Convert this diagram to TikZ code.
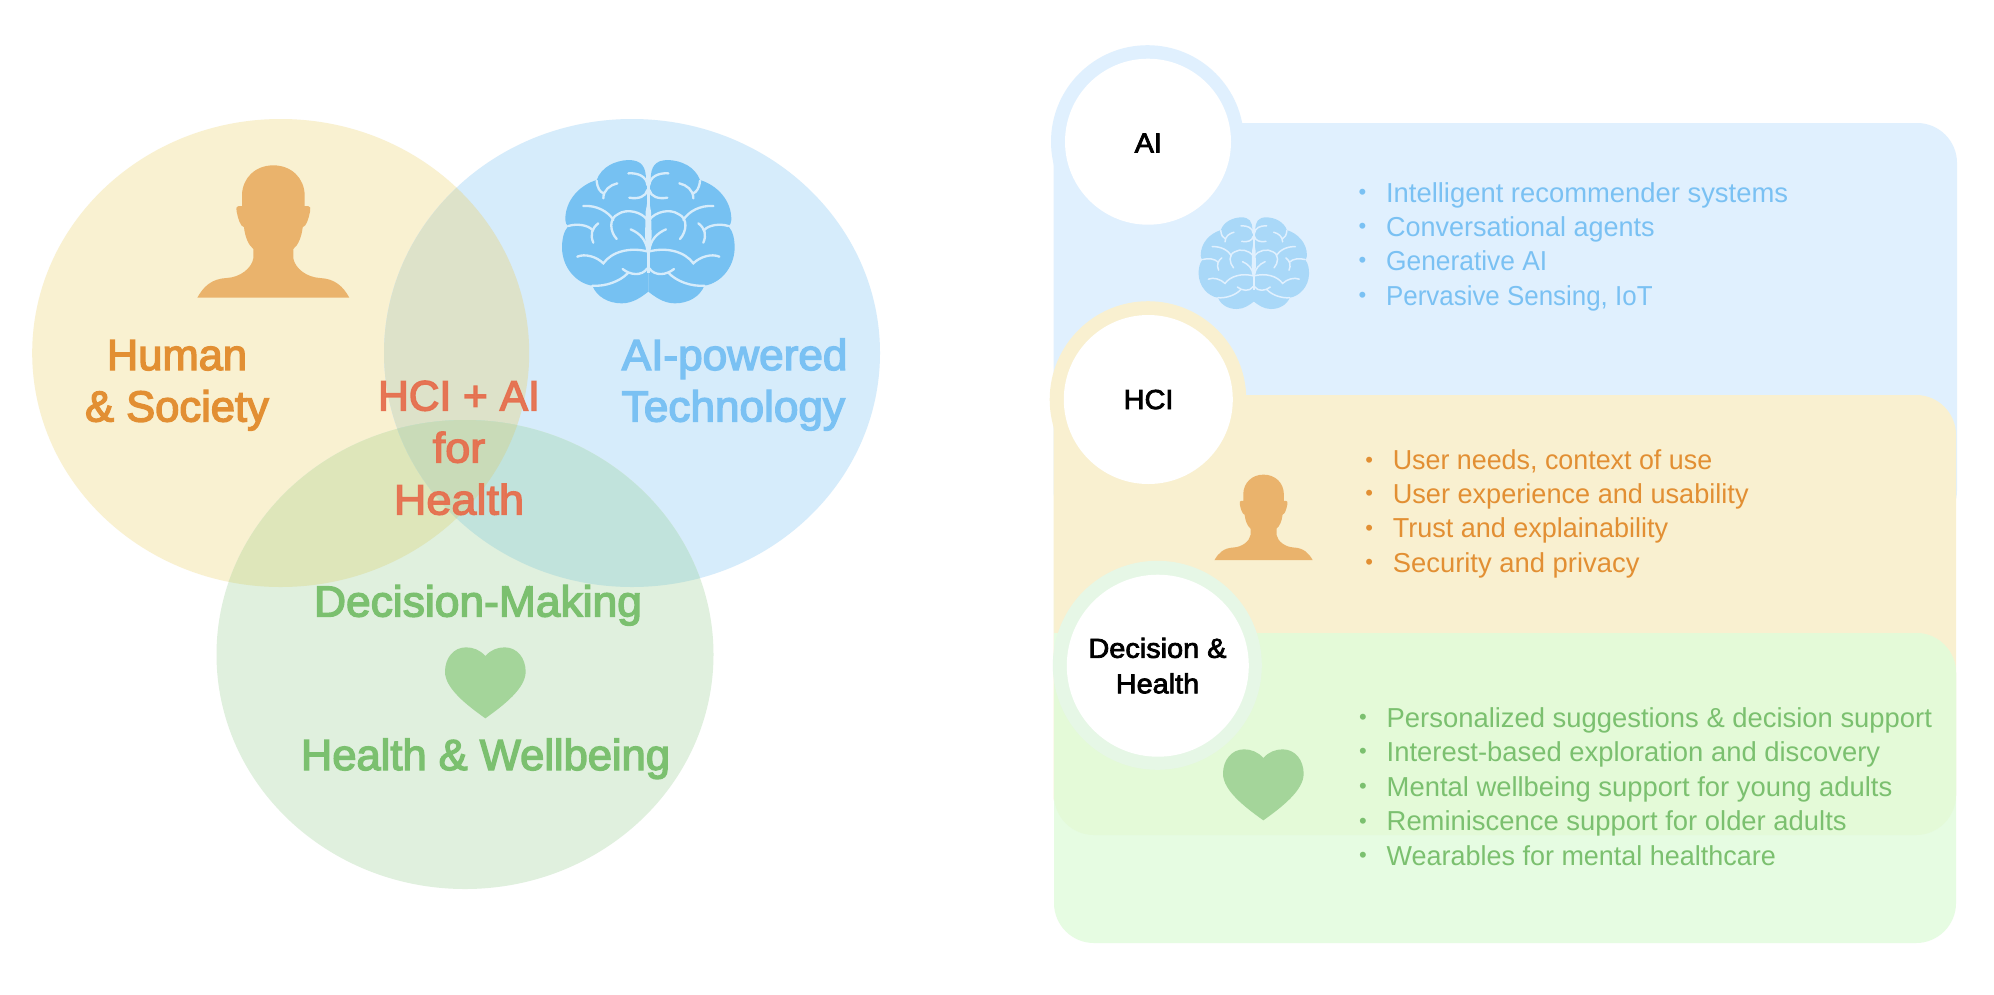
\documentclass[tikz,border=0pt]{standalone}
\usepackage{fontspec}
\setmainfont{Liberation Sans}
\newfontfamily\medfont[FakeBold=3.2]{Liberation Sans}
\newfontfamily\labfont[FakeBold=2.8,FakeStretch=1.05]{Liberation Sans}
\usetikzlibrary{shapes.geometric}
\definecolor{vY}{HTML}{F9F1D1}
\definecolor{vB}{HTML}{D6ECFB}
\definecolor{vG}{HTML}{E0F0DE}
\definecolor{vYB}{HTML}{DDE2C9}
\definecolor{vYG}{HTML}{DEE6BA}
\definecolor{vBG}{HTML}{C1E3DC}
\definecolor{vYBG}{HTML}{C9DBB8}
\definecolor{pB}{HTML}{E0F0FE}
\definecolor{pY}{HTML}{F9F0D0}
\definecolor{pG}{HTML}{E6FCE2}
\definecolor{pGY}{HTML}{E4FAD8}
\definecolor{rG}{HTML}{E6F7E6}
\definecolor{tO}{HTML}{E28F33}
\definecolor{tB}{HTML}{7AC1F3}
\definecolor{tG}{HTML}{7BC06F}
\definecolor{tR}{HTML}{E6704F}
\definecolor{iO}{HTML}{EAB36C}
\definecolor{iB}{HTML}{76C1F2}
\definecolor{iBs}{HTML}{A9D8F8}
\definecolor{iG}{HTML}{A4D59A}
\newcommand\sq[2]{{\addfontfeature{FakeStretch=#1}#2}}
\tikzset{
  venn/.style={font=\medfont\fontsize{43.5}{51.5}\selectfont,inner sep=0pt,anchor=base,align=center},
  circlabel/.style={font=\labfont\fontsize{27.5}{35.5}\selectfont,inner sep=0pt,anchor=base,align=center,text=black},
  item/.style={font=\fontsize{27.4}{33}\selectfont,inner sep=0pt,anchor=base west},
  dot/.style={font=\fontsize{22}{24}\selectfont,inner sep=0pt,anchor=base},
}
% icons: all coordinates are pixels of a 3x crop; #1,#2 = crop origin, #3 = unit
\newcommand\heartshape[3]{%
\begin{scope}[shift={(#1,#2)},x=#3pt,y=-#3pt]
\fill[iG] (166,78) .. controls (150,60) and (130,52) .. (108,52) .. controls (70,52) and (45,85) .. (45,125)
 .. controls (45,175) and (110,225) .. (166,265) .. controls (222,225) and (287,175) .. (287,125)
 .. controls (287,85) and (262,52) .. (224,52) .. controls (202,52) and (182,60) .. (166,78) -- cycle;
\end{scope}}
\newcommand\personshape[3]{%
\begin{scope}[shift={(#1,#2)},x=#3pt,y=-#3pt]
\fill[iO] (280,46) .. controls (225,46) and (187,85) .. (186,135) -- (186,168) -- (176,168)
 .. controls (170,168) and (168,172) .. (170,185) .. controls (174,205) and (180,228) .. (192,232)
 .. controls (195,260) and (205,285) .. (220,297) -- (220,325) .. controls (215,355) and (180,382) .. (140,384)
 .. controls (95,386) and (70,410) .. (52,443) -- (508,443)
 .. controls (490,410) and (465,386) .. (420,384) .. controls (380,382) and (345,355) .. (340,325) -- (340,297)
 .. controls (355,285) and (365,260) .. (368,232) .. controls (380,228) and (386,205) .. (390,185)
 .. controls (392,172) and (390,168) .. (384,168) -- (374,168) -- (374,135) .. controls (373,85) and (335,46) .. (280,46) -- cycle;
\end{scope}}
\newcommand\brainhalf[1]{%
\fill[#1] (325,120) -- (318,120) .. controls (318,80) and (305,60) .. (265,60) .. controls (225,62) and (185,80) .. (170,120)
 .. controls (120,135) and (75,180) .. (76,240) .. controls (76,250) and (80,255) .. (85,258)
 .. controls (70,275) and (66,300) .. (66,325) .. controls (68,385) and (110,430) .. (157,437)
 .. controls (170,470) and (205,490) .. (245,490) .. controls (280,490) and (305,470) .. (325,455) -- cycle;}
\newcommand\brainlines{%
 (265,100) .. controls (295,98) and (320,110) .. (322,135)
 (268,173) .. controls (295,178) and (318,170) .. (322,150)
 (232,130) .. controls (210,135) and (190,150) .. (190,175)
 (170,122) .. controls (172,145) and (180,155) .. (190,160)
 (130,198) .. controls (170,195) and (205,215) .. (220,240)
 (230,297) .. controls (210,275) and (205,235) .. (235,222) .. controls (260,205) and (305,215) .. (322,240)
 (272,268) .. controls (300,280) and (318,300) .. (322,330)
 (85,258) .. controls (110,250) and (145,255) .. (157,270)
 (175,250) .. controls (155,265) and (150,285) .. (160,308)
 (112,350) .. controls (135,340) and (170,350) .. (190,370) .. controls (215,335) and (270,320) .. (325,335)
 (248,387) .. controls (270,405) and (305,410) .. (322,385)
 (157,437) .. controls (195,440) and (240,425) .. (265,398)
}
\newcommand\brainshape[5]{%
\begin{scope}[shift={(#1,#2)},x=#3pt,y=-#3pt]
\brainhalf{#4}
\begin{scope}[shift={(650,0)},x=-#3pt]\brainhalf{#4}\end{scope}
\draw[#5,line width=7*#3 pt,line cap=round] \brainlines;
\begin{scope}[shift={(650,0)},x=-#3pt]\draw[#5,line width=7*#3 pt,line cap=round] \brainlines;\end{scope}
\draw[#5,line width=9*#3 pt] (325,55) -- (325,400);
\fill[#5] (325,170) -- (333,215) -- (335,290) -- (328,345) -- (322,345) -- (315,290) -- (317,215) -- cycle;
\end{scope}}
\begin{document}
\begin{tikzpicture}[x=1pt,y=-1pt]
\useasboundingbox (0,0) rectangle (1994,994);
\fill[white] (0,0) rectangle (1994,994);
% Venn
\def\eY{(280.7,353) ellipse [x radius=248.5,y radius=234]}
\def\eB{(632,353) ellipse [x radius=248,y radius=234]}
\def\eG{(465,654.5) ellipse [x radius=248.5,y radius=234.5]}
\fill[vY] \eY; \fill[vB] \eB; \fill[vG] \eG;
\begin{scope}\clip \eY; \fill[vYB] \eB; \fill[vYG] \eG; \clip \eB; \fill[vYBG] \eG; \end{scope}
\begin{scope}\clip \eB; \clip \eG;
\fill[vBG] (0,0) rectangle (1000,994);
\clip \eY; \fill[vYBG] (0,0) rectangle (1000,994);
\end{scope}
\personshape{180}{150}{0.33333}
\brainshape{540}{140}{0.33333}{iB}{vB}
\heartshape{430}{630}{0.33333}
\node[venn,text=tO] (human) at (177,421.5) {Human\\\& Society};
\node[venn,text=tB,anchor=base west,align=left,font=\medfont\addfontfeature{FakeStretch=1.015}\fontsize{43.5}{51.5}\selectfont] (tech) at (621.5,421.5) {AI-powered\\Technology};
\node[venn,text=tR,text opacity=0.95,font=\medfont\fontsize{42.5}{52}\selectfont] (core) at (459,514.5) {HCI + AI\\\sq{1.06}{for}\\\sq{1.06}{Health}};
\node[venn,text=tG,font=\medfont\addfontfeature{FakeStretch=1.02}\fontsize{43.5}{51.5}\selectfont] (decision) at (478,616.5) {Decision-Making};
\node[venn,text=tG] (wellbeing) at (485.5,770) {Health \& Wellbeing};
% AI panel
\fill[pB] (1053.5,123) [rounded corners=40pt] -- (1957,123) -- (1957,530) -- (1053.5,530) [sharp corners] -- cycle;
\fill[pB] (1147.5,141.7) circle (96.5);
\node[circle,fill=white,minimum size=166pt,inner sep=0pt] (aic) at (1148,141.7) {};
\node[circlabel] (ailab) at (1148.3,152.5) {AI};
\brainshape{1184.5}{204.5}{0.2133}{iBs}{pB}
\node[dot,text=tB] (b1a) at (1362.5,199.5) {•};
\node[item,text=tB] (t1a) at (1385.9,202) {Intelligent recommender systems};
\node[dot,text=tB] (b1b) at (1362.5,233.5) {•};
\node[item,text=tB] (t1b) at (1385.9,236) {\sq{0.985}{Conversational agents}};
\node[dot,text=tB] (b1c) at (1362.5,267.5) {•};
\node[item,text=tB] (t1c) at (1385.9,270.2) {\sq{0.962}{Generative AI}};
\node[dot,text=tB] (b1d) at (1362.5,302.5) {•};
\node[item,text=tB] (t1d) at (1385.9,305.2) {\sq{0.946}{Pervasive Sensing, IoT}};
% HCI panel
\fill[pY] (1053.5,395) [rounded corners=40pt] -- (1956,395) -- (1956,835) -- (1053.5,835) [sharp corners] -- cycle;
\fill[pY] (1148,399.5) circle (98.3);
\node[circle,fill=white,minimum size=169pt,inner sep=0pt] (hcic) at (1148.3,399.5) {};
\node[circlabel] (hcilab) at (1148.6,409) {HCI};
\personshape{1203.2}{464.7}{0.2156}
\node[dot,text=tO] (b2a) at (1369.3,467) {•};
\node[item,text=tO] (t2a) at (1392.6,469.5) {\sq{0.98}{User needs, context of use}};
\node[dot,text=tO] (b2b) at (1369.3,500.8) {•};
\node[item,text=tO] (t2b) at (1392.6,503.5) {\sq{0.99}{User experience and usability}};
\node[dot,text=tO] (b2c) at (1369.3,535) {•};
\node[item,text=tO] (t2c) at (1392.6,537.7) {\sq{0.986}{Trust and explainability}};
\node[dot,text=tO] (b2d) at (1369.3,569.5) {•};
\node[item,text=tO] (t2d) at (1392.6,572) {Security and privacy};
% Decision panel
\fill[pG] (1054,633) [rounded corners=40pt] -- (1956,633) -- (1956,943) -- (1054,943) -- (1054,633) [sharp corners] -- cycle;
\begin{scope}
\clip (1000,600) rectangle (1994,835);
\fill[pGY,rounded corners=40pt] (1054,633) rectangle (1956,835);
\end{scope}
\fill[rG] (1157.3,665.3) circle (104.5);
\node[circle,fill=white,minimum size=182pt,inner sep=0pt] (dhc) at (1157.8,665.7) {};
\node[circlabel] (dhlab) at (1157.5,693.3) {Decision \&\\Health};
\heartshape{1208}{732}{0.33333}
\node[dot,text=tG] (b3a) at (1363,724.7) {•};
\node[item,text=tG] (t3a) at (1386.5,727.4) {Personalized suggestions \& decision support};
\node[dot,text=tG] (b3b) at (1363,758.7) {•};
\node[item,text=tG] (t3b) at (1386.5,761.4) {Interest-based exploration and discovery};
\node[dot,text=tG] (b3c) at (1363,793.7) {•};
\node[item,text=tG] (t3c) at (1386.5,796.4) {Mental wellbeing support for young adults};
\node[dot,text=tG] (b3d) at (1363,828) {•};
\node[item,text=tG] (t3d) at (1386.5,830.7) {Reminiscence support for older adults};
\node[dot,text=tG] (b3e) at (1363,862.7) {•};
\node[item,text=tG] (t3e) at (1386.5,865.4) {\sq{0.984}{Wearables for mental healthcare}};
\end{tikzpicture}
\end{document}
